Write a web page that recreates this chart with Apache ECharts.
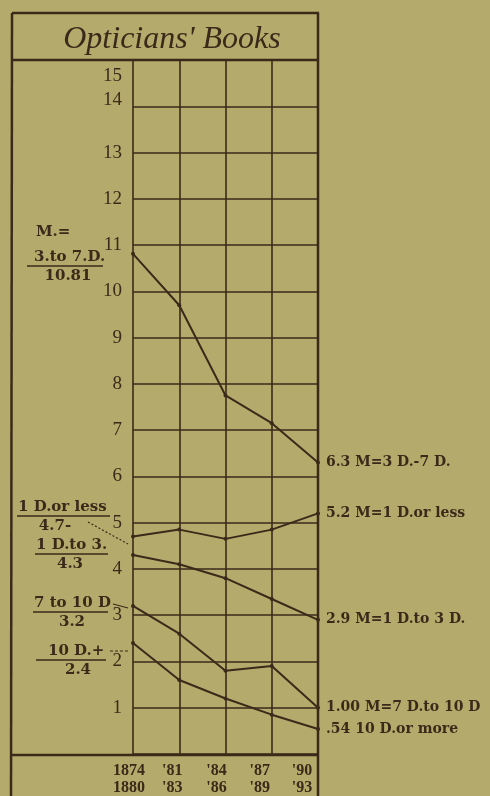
<!DOCTYPE html>
<html>
<head>
<meta charset="utf-8">
<script src="https://cdn.jsdelivr.net/npm/echarts@6/dist/echarts.min.js"></script>
<style>
  html, body { margin: 0; padding: 0; background: #b4aa6b; }
  #chart { width: 490px; height: 796px; }
</style>
</head>
<body>
<div id="chart"></div>
<script>
// Periods (upper and lower year of each span)
const periodStart = ['1874', "'81", "'84", "'87", "'90"];
const periodEnd = ['1880', "'83", "'86", "'89", "'93"];

// Average myopia, by degree group
const m3to7 = [10.81, 9.7, 7.75, 7.15, 6.3];
const m1orLess = [4.7, 4.85, 4.65, 4.85, 5.2];
const m1to3 = [4.3, 4.1, 3.8, 3.35, 2.9];
const m7to10 = [3.2, 2.6, 1.8, 1.9, 1.00];
const m10plus = [2.4, 1.6, 1.2, 0.85, 0.54];

// Labels written at the end of each line
const endText = ['6.3 M=3 D.-7 D.', '5.2 M=1 D.or less', '2.9 M=1 D.to 3 D.', '1.00 M=7 D.to 10 D', '.54 10 D.or more'];

const INK = '#3a2a1a';
const SERIF = '"Liberation Serif", "DejaVu Serif", serif';
const WIDE = '"DejaVu Serif", serif';
const SMALL = 'bold 15px ' + WIDE;

const chart = echarts.init(document.getElementById('chart'));

function lineSeries(name, data, label) {
  return {
    name: name,
    type: 'line',
    data: data,
    symbol: 'circle',
    symbolSize: 4,
    lineStyle: { color: INK, width: 2 },
    itemStyle: { color: INK },
    endLabel: {
      show: true,
      formatter: () => label,
      color: INK,
      fontFamily: WIDE,
      fontWeight: 'bold',
      fontSize: 14,
      distance: 8
    },
    animation: false,
    z: 5
  };
}

const seriesNames = ['3 to 7 D', '1 D or less', '1 D to 3 D', '7 to 10 D', '10 D or more'];
const seriesData = [m3to7, m1orLess, m1to3, m7to10, m10plus];

// Left-hand annotations: caption, underline and starting value
function caption(x, y, text, ux1, ux2, value, vx) {
  return [
    { type: 'text', x: x, y: y, style: { text: text, font: SMALL, fill: INK, textVerticalAlign: 'middle' } },
    { type: 'line', shape: { x1: ux1, y1: y + 9, x2: ux2, y2: y + 9 }, style: { stroke: INK, lineWidth: 1.6 } },
    { type: 'text', x: vx, y: y + 19, style: { text: value, font: SMALL, fill: INK, textAlign: 'center', textVerticalAlign: 'middle' } }
  ];
}

const frame = { stroke: INK, lineWidth: 2.5 };

const graphics = [
  // outer frame and title band
  { type: 'line', shape: { x1: 12, y1: 13, x2: 319, y2: 13 }, style: frame },
  { type: 'line', shape: { x1: 12, y1: 13, x2: 11, y2: 796 }, style: frame },
  { type: 'line', shape: { x1: 318, y1: 13, x2: 318, y2: 796 }, style: frame },
  { type: 'line', shape: { x1: 11, y1: 60, x2: 318, y2: 60 }, style: frame },
  { type: 'line', shape: { x1: 11, y1: 755, x2: 318, y2: 755 }, style: frame },
  { type: 'text', x: 172, y: 40, style: { text: "Opticians' Books", font: 'italic 32px ' + SERIF, fill: INK, textAlign: 'center', textVerticalAlign: 'middle' } },
  { type: 'text', x: 36, y: 232, style: { text: 'M.=', font: SMALL, fill: INK, textVerticalAlign: 'middle' } }
]
  .concat(caption(34, 257, '3.to 7.D.', 27, 103, '10.81', 68))
  .concat(caption(18, 507, '1 D.or less', 17, 110, '4.7-', 55))
  .concat(caption(36, 545, '1 D.to 3.', 35, 108, '4.3', 70))
  .concat(caption(34, 603, '7 to 10 D', 33, 108, '3.2', 72))
  .concat(caption(48, 651, '10 D.+', 36, 106, '2.4', 78))
  .concat([
    // connectors from captions to the lines
    { type: 'line', shape: { x1: 88, y1: 522, x2: 128, y2: 544 }, style: { stroke: INK, lineWidth: 1.2, lineDash: [2, 2] } },
    { type: 'line', shape: { x1: 113, y1: 604, x2: 128, y2: 608 }, style: { stroke: INK, lineWidth: 1.2 } },
    { type: 'line', shape: { x1: 110, y1: 651, x2: 130, y2: 651 }, style: { stroke: INK, lineWidth: 1.2, lineDash: [3, 2] } }
  ]);

// Year labels sit a little to the left of their column lines
const yearShift = [8, 14, 18, 24, 32];
const yearRich = {};
yearShift.forEach((p, i) => {
  yearRich['y' + i] = { color: INK, fontFamily: SERIF, fontWeight: 'bold', fontSize: 16, lineHeight: 17, padding: [0, p, 0, 0] };
});

chart.setOption({
  backgroundColor: '#b4aa6b',
  animation: false,
  grid: { left: 133, right: 172, top: 60, bottom: 41 },
  xAxis: {
    type: 'category',
    boundaryGap: false,
    data: periodStart.map((p, i) => p + '\n' + periodEnd[i]),
    axisLine: { show: false },
    axisTick: { show: false },
    axisLabel: {
      interval: 0,
      hideOverlap: false,
      color: INK, fontFamily: SERIF, fontWeight: 'bold', fontSize: 16, lineHeight: 17, margin: 8,
      formatter: (v, i) => v.split('\n').map(s => '{y' + i + '|' + s + '}').join('\n'),
      rich: yearRich
    },
    splitLine: { show: true, interval: 0, lineStyle: { color: INK, width: 1.6 } }
  },
  yAxis: {
    type: 'value',
    min: 0,
    max: 15,
    interval: 1,
    axisLine: { show: false },
    axisTick: { show: false },
    axisLabel: {
      margin: 11,
      color: INK,
      fontFamily: SERIF,
      fontSize: 19,
      formatter: v => {
        if (v === 0) return '';
        if (v === 15) return '{top|15}';
        if (v === 14) return '{up|14}';
        return String(v);
      },
      rich: {
        top: { fontFamily: SERIF, fontSize: 19, color: INK, padding: [32, 0, 0, 0] },
        up: { fontFamily: SERIF, fontSize: 19, color: INK, padding: [0, 0, 12, 0] }
      }
    },
    splitLine: { show: true, lineStyle: { color: INK, width: 1.6 } }
  },
  series: seriesData.map((d, i) => lineSeries(seriesNames[i], d, endText[i])),
  graphic: graphics
});
</script>
</body>
</html>
